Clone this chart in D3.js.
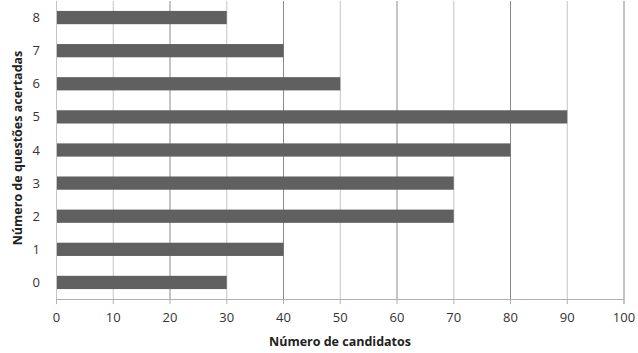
<!DOCTYPE html>
<html>
<head>
<meta charset="utf-8">
<script src="https://cdn.jsdelivr.net/npm/d3@7"></script>
<style>
  body { margin: 0; background: #fff; }
  text { font-family: "Open Sans", "Noto Sans", sans-serif; }
</style>
</head>
<body>
<div class="canvas"></div>
<script>
// questions answered correctly -> number of candidates
const categories = ["0", "1", "2", "3", "4", "5", "6", "7", "8"];
const values = [30, 40, 70, 70, 80, 90, 50, 40, 30];
const xTicks = [0, 10, 20, 30, 40, 50, 60, 70, 80, 90, 100];

const width = 638, height = 353;

const svg = d3.select(".canvas")
  .append("svg")
    .attr("width", width)
    .attr("height", height);

const x = d3.scaleLinear()
  .domain([0, 100])
  .range([56, 623.5]);

const y = d3.scaleBand()
  .domain(categories.slice().reverse())
  .range([1, 299])
  .paddingInner(0.6)
  .paddingOuter(0.3);

// gridlines, every other one a bit darker (as in the source)
svg.append("g")
  .selectAll("line")
  .data(xTicks)
  .enter()
    .append("line")
    .attr("x1", d => x(d) + 0.5)
    .attr("x2", d => x(d) + 0.5)
    .attr("y1", 1)
    .attr("y2", 299)
    .attr("stroke", (d, i) => (i % 2 === 0 && d > 0) ? "#8a8a8a" : "#c4c4c4")
    .attr("stroke-width", 1);

// bars
svg.append("g")
  .selectAll("rect")
  .data(values)
  .enter()
    .append("rect")
    .attr("x", x(0) + 1)
    .attr("y", (d, i) => y(categories[i]))
    .attr("width", d => x(d) - x(0) - 0.5)
    .attr("height", y.bandwidth())
    .attr("fill", "#606060");

// x axis
const xAxis = svg.append("g")
  .attr("transform", "translate(0,299)")
  .call(d3.axisBottom(x).tickValues(xTicks).tickSize(5).tickPadding(9));
xAxis.select(".domain").attr("stroke", "#b0b0b0");
xAxis.selectAll(".tick line").attr("stroke", "#b0b0b0");
xAxis.selectAll("text")
  .attr("fill", "#333")
  .style("font-size", "13px");

// y axis labels
svg.append("g")
  .selectAll("text")
  .data(categories)
  .enter()
    .append("text")
    .attr("x", 40)
    .attr("y", d => y(d) + y.bandwidth() / 2)
    .attr("dy", "0.35em")
    .attr("text-anchor", "end")
    .attr("fill", "#333")
    .style("font-size", "13px")
    .text(d => d);

// titles
svg.append("text")
  .attr("x", 340)
  .attr("y", 346)
  .attr("text-anchor", "middle")
  .attr("font-weight", "bold")
  .attr("fill", "#222")
  .style("font-size", "12.5px")
  .text("Número de candidatos");

svg.append("text")
  .attr("transform", "translate(22,148) rotate(-90)")
  .attr("text-anchor", "middle")
  .attr("font-weight", "bold")
  .attr("fill", "#222")
  .style("font-size", "12.5px")
  .text("Número de questões acertadas");
</script>
</body>
</html>
